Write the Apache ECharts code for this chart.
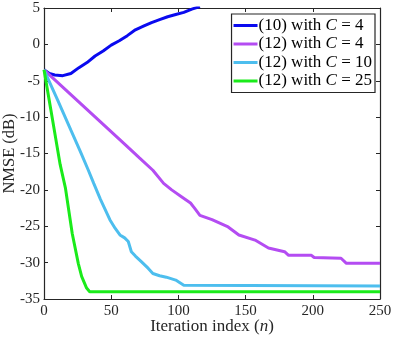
<!DOCTYPE html>
<html>
<head>
<meta charset="utf-8">
<script src="https://cdn.jsdelivr.net/npm/echarts@6/dist/echarts.min.js"></script>
<style>
html, body { margin: 0; padding: 0; background: #fff; }
#chart { width: 395px; height: 338px; }
</style>
</head>
<body>
<div id="chart"></div>
<script>
// (10) with C = 4
var blueN = [0, 4, 8, 14, 20, 26, 32, 38, 44, 50, 56, 62, 68, 74, 80, 86, 92, 98, 104, 110, 116];
var blueY = [-3.5, -4.0, -4.2, -4.3, -4.0, -3.2, -2.5, -1.6, -0.9, -0.1, 0.5, 1.2, 2.0, 2.5, 3.0, 3.4, 3.8, 4.1, 4.4, 4.85, 5.2];
// (12) with C = 4
var purpleN = [0, 20, 40, 60, 71, 81, 89, 95, 102, 109, 112, 116, 125, 137, 145, 157, 167, 179, 182, 199, 201, 221, 225, 250];
var purpleY = [-3.5, -6.9, -10.3, -13.7, -15.6, -17.3, -19.1, -20.0, -20.9, -21.8, -22.5, -23.5, -24.1, -25.1, -26.2, -26.9, -28.0, -28.5, -29.0, -29.0, -29.3, -29.4, -30.1, -30.1];
// (12) with C = 10
var cyanN = [0, 10, 20, 27, 33, 37, 42, 49, 53, 56.5, 60, 62.7, 65, 68, 72.6, 77.6, 81, 86, 91, 98, 104, 250];
var cyanY = [-3.5, -7.6, -11.8, -14.7, -17.3, -19.1, -21.3, -24.1, -25.3, -26.2, -26.6, -27.1, -28.5, -29.1, -29.9, -30.8, -31.5, -31.8, -32.0, -32.4, -33.1, -33.2];
// (12) with C = 25
var greenN = [0, 5, 12, 16, 21, 25.5, 28, 31.7, 34, 40, 100, 250];
var greenY = [-3.5, -8.9, -16.5, -19.8, -26.0, -30.1, -31.9, -33.5, -34.0, -34.0, -34.0, -34.0];

var legendNames = ['(10) with C = 4', '(12) with C = 4', '(12) with C = 10', '(12) with C = 25'];

function pairs (xs, ys) {
  return xs.map(function (x, i) { return [x, ys[i]] })
}

var font = 'Liberation Serif';
var chart = echarts.init(document.getElementById('chart'));

function mkSeries (name, xs, ys, color) {
  return {
    name: name,
    type: 'line',
    data: pairs(xs, ys),
    symbol: 'none',
    lineStyle: { width: 3, color: color },
    itemStyle: { color: color },
    clip: true,
    animation: false
  }
}

function tickStyle () {
  return { show: true, inside: true, length: 4, lineStyle: { color: '#262626' } }
}
function axLine () {
  return { show: true, onZero: false, lineStyle: { color: '#262626', width: 1.2 } }
}

chart.setOption({
  animation: false,
  grid: { left: 44, right: 15, top: 8, bottom: 39, outerBoundsMode: 'none', containLabel: false },
  legend: {
    data: legendNames,
    orient: 'vertical',
    right: 20,
    top: 14,
    backgroundColor: '#fff',
    borderColor: '#262626',
    borderWidth: 1.2,
    borderRadius: 0,
    padding: [3, 3, 3, 2],
    itemWidth: 24,
    itemHeight: 3,
    itemGap: 1.5,
    icon: 'rect',
    formatter: function (name) {
      var parts = name.split('C');
      return parts[0] + '{c|C}' + parts[1];
    },
    textStyle: {
      fontFamily: font,
      fontSize: 17,
      lineHeight: 17,
      color: '#000',
      padding: [0, 0, 0, -4],
      rich: {
        c: { fontFamily: font, fontSize: 17, lineHeight: 17, fontStyle: 'italic', color: '#000' }
      }
    }
  },
  xAxis: [{
    type: 'value',
    min: 0,
    max: 250,
    interval: 50,
    name: 'Iteration index ({i|n})',
    nameLocation: 'middle',
    nameGap: 28,
    nameMoveOverlap: false,
    nameTextStyle: {
      fontFamily: font, fontSize: 17, color: '#262626', verticalAlign: 'middle',
      rich: { i: { fontFamily: font, fontSize: 17, fontStyle: 'italic', color: '#262626' } }
    },
    axisLine: axLine(),
    axisTick: tickStyle(),
    splitLine: { show: false },
    axisLabel: { fontFamily: font, fontSize: 15, color: '#262626', margin: 5 }
  }, {
    type: 'value',
    position: 'top',
    min: 0,
    max: 250,
    interval: 50,
    axisLine: axLine(),
    axisTick: tickStyle(),
    splitLine: { show: false },
    axisLabel: { show: false }
  }],
  yAxis: [{
    type: 'value',
    min: -35,
    max: 5,
    interval: 5,
    name: 'NMSE (dB)',
    nameLocation: 'middle',
    nameGap: 34,
    nameMoveOverlap: false,
    nameTextStyle: { fontFamily: font, fontSize: 16.5, color: '#262626', verticalAlign: 'middle' },
    axisLine: axLine(),
    axisTick: tickStyle(),
    splitLine: { show: false },
    axisLabel: { fontFamily: font, fontSize: 15, color: '#262626', margin: 4 }
  }, {
    type: 'value',
    position: 'right',
    min: -35,
    max: 5,
    interval: 5,
    axisLine: axLine(),
    axisTick: tickStyle(),
    splitLine: { show: false },
    axisLabel: { show: false }
  }],
  series: [
    mkSeries(legendNames[0], blueN, blueY, '#0a0aef'),
    mkSeries(legendNames[1], purpleN, purpleY, '#b44cf2'),
    mkSeries(legendNames[2], cyanN, cyanY, '#4dbeee'),
    mkSeries(legendNames[3], greenN, greenY, '#1aeb1a')
  ]
});
</script>
</body>
</html>
